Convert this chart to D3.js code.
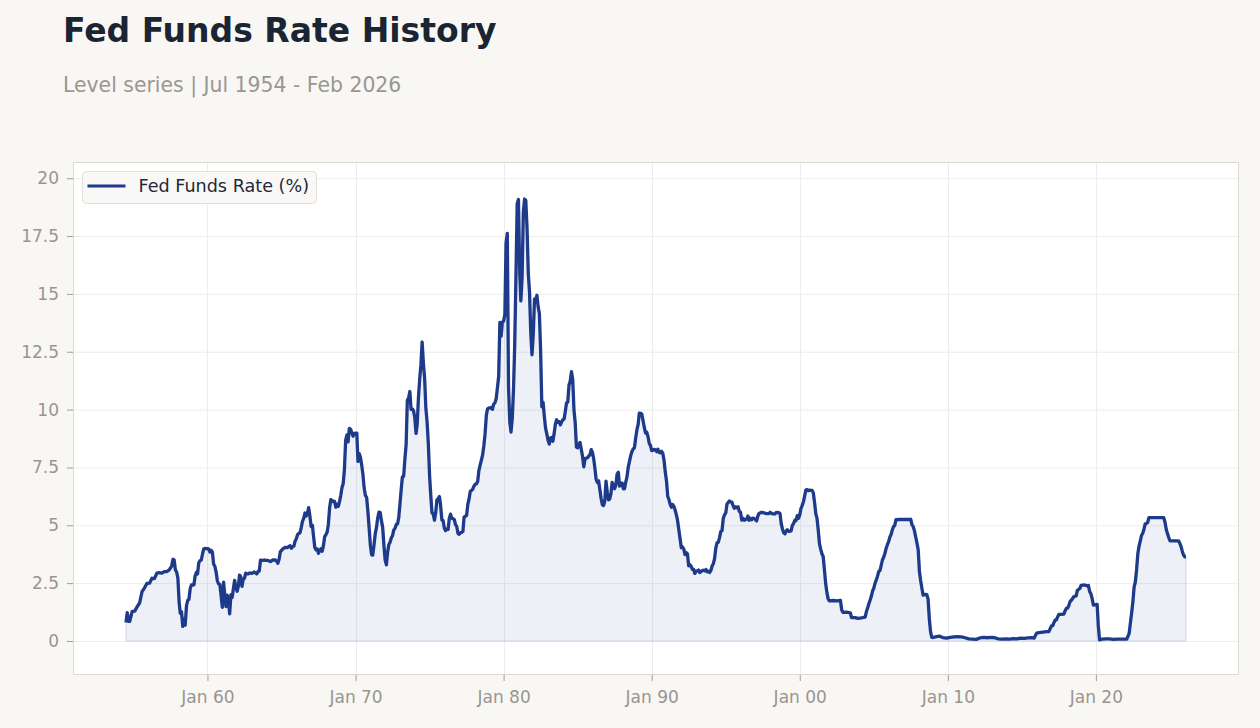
<!DOCTYPE html>
<html>
<head>
<meta charset="utf-8">
<script src="https://cdn.jsdelivr.net/npm/d3@7/dist/d3.min.js"></script>
<style>
  body { margin: 0; background: #f8f7f4; font-family: "DejaVu Sans", sans-serif; }
  .axis text { font-family: "DejaVu Sans", sans-serif; font-size: 17px; fill: #999591; }
  .axis line { stroke: #a09c97; }
  .axis path { display: none; }
</style>
</head>
<body>
<div id="chart"></div>
<script>
// monthly effective rate (month, percent)
var rates1950s = [
  ["1954-07", 0.80], ["1954-08", 1.22], ["1954-09", 0.85], ["1954-10", 0.85], ["1954-12", 1.28],
  ["1955-02", 1.29], ["1955-04", 1.48], ["1955-06", 1.64], ["1955-08", 2.13], ["1955-10", 2.30], ["1955-12", 2.49],
  ["1956-02", 2.50], ["1956-04", 2.71], ["1956-06", 2.70], ["1956-08", 2.93], ["1956-10", 2.95], ["1956-12", 2.93],
  ["1957-02", 3.00], ["1957-04", 3.00], ["1957-06", 3.07], ["1957-08", 3.24], ["1957-09", 3.53], ["1957-10", 3.50],
  ["1957-11", 3.07], ["1957-12", 2.98], ["1958-01", 2.72], ["1958-02", 1.67], ["1958-03", 1.20], ["1958-04", 1.26],
  ["1958-05", 0.63], ["1958-06", 0.93], ["1958-07", 0.68], ["1958-08", 1.53], ["1958-09", 1.76], ["1958-10", 1.80],
  ["1958-11", 2.27], ["1958-12", 2.42], ["1959-02", 2.43], ["1959-03", 2.80], ["1959-04", 2.96], ["1959-05", 2.90],
  ["1959-06", 3.39], ["1959-07", 3.47], ["1959-08", 3.50], ["1959-09", 3.76], ["1959-10", 3.98], ["1959-11", 4.00],
  ["1959-12", 3.99]
];
var rates1960s = [
  ["1960-01", 3.99], ["1960-02", 3.97], ["1960-03", 3.84], ["1960-04", 3.92], ["1960-05", 3.85], ["1960-06", 3.32],
  ["1960-07", 3.23], ["1960-08", 2.98], ["1960-09", 2.60], ["1960-10", 2.47], ["1960-11", 2.44], ["1960-12", 1.98],
  ["1961-01", 1.45], ["1961-02", 2.54], ["1961-03", 2.02], ["1961-04", 1.49], ["1961-05", 1.98], ["1961-06", 1.73],
  ["1961-07", 1.17], ["1961-08", 2.00], ["1961-09", 1.88], ["1961-10", 2.26], ["1961-11", 2.62], ["1961-12", 2.33],
  ["1962-01", 2.15], ["1962-02", 2.37], ["1962-03", 2.85], ["1962-04", 2.78], ["1962-05", 2.36], ["1962-06", 2.68],
  ["1962-07", 2.71], ["1962-08", 2.93], ["1962-09", 2.90], ["1962-10", 2.90], ["1962-11", 2.94], ["1962-12", 2.93],
  ["1963-01", 2.92], ["1963-03", 2.98], ["1963-05", 2.90], ["1963-06", 3.00], ["1963-07", 3.02], ["1963-08", 3.49],
  ["1963-10", 3.48], ["1963-11", 3.50], ["1963-12", 3.48], ["1964-02", 3.48], ["1964-04", 3.43], ["1964-06", 3.50],
  ["1964-08", 3.50], ["1964-09", 3.45], ["1964-10", 3.36], ["1964-11", 3.52], ["1964-12", 3.85], ["1965-02", 3.98],
  ["1965-04", 4.05], ["1965-06", 4.04], ["1965-08", 4.12], ["1965-09", 4.01], ["1965-10", 4.08], ["1965-11", 4.10],
  ["1965-12", 4.32], ["1966-01", 4.42], ["1966-02", 4.60], ["1966-03", 4.65], ["1966-04", 4.67], ["1966-05", 4.90],
  ["1966-06", 5.17], ["1966-07", 5.30], ["1966-08", 5.53], ["1966-09", 5.40], ["1966-10", 5.53], ["1966-11", 5.76],
  ["1966-12", 5.40], ["1967-01", 4.94], ["1967-02", 5.00], ["1967-03", 4.53], ["1967-04", 4.05], ["1967-05", 3.94],
  ["1967-06", 3.98], ["1967-07", 3.79], ["1967-08", 3.90], ["1967-09", 3.99], ["1967-10", 3.88], ["1967-11", 4.13],
  ["1967-12", 4.51], ["1968-01", 4.60], ["1968-02", 4.71], ["1968-03", 5.05], ["1968-04", 5.76], ["1968-05", 6.11],
  ["1968-06", 6.07], ["1968-07", 6.02], ["1968-08", 6.03], ["1968-09", 5.78], ["1968-10", 5.91], ["1968-11", 5.82],
  ["1968-12", 6.02], ["1969-01", 6.30], ["1969-02", 6.64], ["1969-03", 6.79], ["1969-04", 7.41], ["1969-05", 8.67],
  ["1969-06", 8.90], ["1969-07", 8.61], ["1969-08", 9.19], ["1969-09", 9.15], ["1969-10", 9.00], ["1969-11", 8.85],
  ["1969-12", 8.97]
];
var rates1970s = [
  ["1970-01", 8.98], ["1970-02", 8.98], ["1970-03", 7.76], ["1970-04", 8.10], ["1970-05", 7.94], ["1970-06", 7.60],
  ["1970-07", 7.21], ["1970-08", 6.61], ["1970-09", 6.29], ["1970-10", 6.20], ["1970-11", 5.60], ["1970-12", 4.90],
  ["1971-01", 4.14], ["1971-02", 3.72], ["1971-03", 3.71], ["1971-04", 4.15], ["1971-05", 4.63], ["1971-06", 4.91],
  ["1971-07", 5.31], ["1971-08", 5.57], ["1971-09", 5.55], ["1971-10", 5.20], ["1971-11", 4.91], ["1971-12", 4.14],
  ["1972-01", 3.50], ["1972-02", 3.29], ["1972-03", 3.83], ["1972-04", 4.17], ["1972-05", 4.27], ["1972-06", 4.46],
  ["1972-07", 4.55], ["1972-08", 4.80], ["1972-09", 4.87], ["1972-10", 5.04], ["1972-11", 5.06], ["1972-12", 5.33],
  ["1973-01", 5.94], ["1973-02", 6.58], ["1973-03", 7.09], ["1973-04", 7.12], ["1973-05", 7.84], ["1973-06", 8.49],
  ["1973-07", 10.40], ["1973-08", 10.50], ["1973-09", 10.78], ["1973-10", 10.01], ["1973-11", 10.03], ["1973-12", 9.95],
  ["1974-01", 9.65], ["1974-02", 8.97], ["1974-03", 9.35], ["1974-04", 10.51], ["1974-05", 11.31], ["1974-06", 11.93],
  ["1974-07", 12.92], ["1974-08", 12.01], ["1974-09", 11.34], ["1974-10", 10.06], ["1974-11", 9.45], ["1974-12", 8.53],
  ["1975-01", 7.13], ["1975-02", 6.24], ["1975-03", 5.54], ["1975-04", 5.49], ["1975-05", 5.22], ["1975-06", 5.55],
  ["1975-07", 6.10], ["1975-08", 6.14], ["1975-09", 6.24], ["1975-10", 5.82], ["1975-11", 5.22], ["1975-12", 5.20],
  ["1976-01", 4.87], ["1976-02", 4.77], ["1976-03", 4.84], ["1976-04", 4.82], ["1976-05", 5.29], ["1976-06", 5.48],
  ["1976-07", 5.31], ["1976-08", 5.29], ["1976-09", 5.25], ["1976-10", 5.03], ["1976-11", 4.95], ["1976-12", 4.65],
  ["1977-01", 4.61], ["1977-02", 4.68], ["1977-03", 4.69], ["1977-04", 4.73], ["1977-05", 5.35], ["1977-06", 5.39],
  ["1977-07", 5.42], ["1977-08", 5.90], ["1977-09", 6.14], ["1977-10", 6.47], ["1977-11", 6.51], ["1977-12", 6.56],
  ["1978-01", 6.70], ["1978-02", 6.78], ["1978-03", 6.79], ["1978-04", 6.89], ["1978-05", 7.36], ["1978-06", 7.60],
  ["1978-07", 7.81], ["1978-08", 8.04], ["1978-09", 8.45], ["1978-10", 8.96], ["1978-11", 9.76], ["1978-12", 10.03],
  ["1979-01", 10.07], ["1979-02", 10.06], ["1979-03", 10.09], ["1979-04", 10.01], ["1979-05", 10.24], ["1979-06", 10.29],
  ["1979-07", 10.47], ["1979-08", 10.94], ["1979-09", 11.43], ["1979-10", 13.77], ["1979-11", 13.18], ["1979-12", 13.78]
];
var rates1980s = [
  ["1980-01", 13.82], ["1980-02", 14.13], ["1980-03", 17.19], ["1980-04", 17.61], ["1980-05", 10.98], ["1980-06", 9.47],
  ["1980-07", 9.03], ["1980-08", 9.61], ["1980-09", 10.87], ["1980-10", 12.81], ["1980-11", 15.85], ["1980-12", 18.90],
  ["1981-01", 19.08], ["1981-02", 15.93], ["1981-03", 14.70], ["1981-04", 15.72], ["1981-05", 18.52], ["1981-06", 19.10],
  ["1981-07", 19.04], ["1981-08", 17.82], ["1981-09", 15.87], ["1981-10", 15.08], ["1981-11", 13.31], ["1981-12", 12.37],
  ["1982-01", 13.22], ["1982-02", 14.78], ["1982-03", 14.68], ["1982-04", 14.94], ["1982-05", 14.45], ["1982-06", 14.15],
  ["1982-07", 12.59], ["1982-08", 10.12], ["1982-09", 10.31], ["1982-10", 9.71], ["1982-11", 9.20], ["1982-12", 8.95],
  ["1983-01", 8.68], ["1983-02", 8.51], ["1983-03", 8.77], ["1983-04", 8.80], ["1983-05", 8.63], ["1983-06", 8.98],
  ["1983-07", 9.37], ["1983-08", 9.56], ["1983-09", 9.45], ["1983-10", 9.48], ["1983-11", 9.34], ["1983-12", 9.47],
  ["1984-01", 9.56], ["1984-02", 9.59], ["1984-03", 9.91], ["1984-04", 10.29], ["1984-05", 10.32], ["1984-06", 11.06],
  ["1984-07", 11.23], ["1984-08", 11.64], ["1984-09", 11.30], ["1984-10", 9.99], ["1984-11", 9.43], ["1984-12", 8.38],
  ["1985-01", 8.35], ["1985-02", 8.50], ["1985-03", 8.58], ["1985-04", 8.27], ["1985-05", 7.97], ["1985-06", 7.53],
  ["1985-07", 7.88], ["1985-08", 7.90], ["1985-09", 7.92], ["1985-10", 7.99], ["1985-11", 8.05], ["1985-12", 8.27],
  ["1986-01", 8.14], ["1986-02", 7.86], ["1986-03", 7.48], ["1986-04", 6.99], ["1986-05", 6.85], ["1986-06", 6.92],
  ["1986-07", 6.56], ["1986-08", 6.17], ["1986-09", 5.89], ["1986-10", 5.85], ["1986-11", 6.04], ["1986-12", 6.91],
  ["1987-01", 6.43], ["1987-02", 6.10], ["1987-03", 6.13], ["1987-04", 6.37], ["1987-05", 6.85], ["1987-06", 6.73],
  ["1987-07", 6.58], ["1987-08", 6.73], ["1987-09", 7.22], ["1987-10", 7.29], ["1987-11", 6.69], ["1987-12", 6.77],
  ["1988-01", 6.83], ["1988-02", 6.58], ["1988-03", 6.58], ["1988-04", 6.87], ["1988-05", 7.09], ["1988-06", 7.51],
  ["1988-07", 7.75], ["1988-08", 8.01], ["1988-09", 8.19], ["1988-10", 8.30], ["1988-11", 8.35], ["1988-12", 8.76],
  ["1989-01", 9.12], ["1989-02", 9.36], ["1989-03", 9.85], ["1989-04", 9.84], ["1989-05", 9.81], ["1989-06", 9.53],
  ["1989-07", 9.24], ["1989-08", 8.99], ["1989-09", 9.02], ["1989-10", 8.84], ["1989-11", 8.55], ["1989-12", 8.45]
];
var rates1990s = [
  ["1990-01", 8.23], ["1990-02", 8.24], ["1990-03", 8.28], ["1990-04", 8.26], ["1990-05", 8.18], ["1990-06", 8.29],
  ["1990-07", 8.15], ["1990-08", 8.13], ["1990-09", 8.20], ["1990-10", 8.11], ["1990-11", 7.81], ["1990-12", 7.31],
  ["1991-01", 6.91], ["1991-02", 6.25], ["1991-03", 6.12], ["1991-04", 5.91], ["1991-05", 5.78], ["1991-06", 5.90],
  ["1991-07", 5.82], ["1991-08", 5.66], ["1991-09", 5.45], ["1991-10", 5.21], ["1991-11", 4.81], ["1991-12", 4.43],
  ["1992-01", 4.03], ["1992-02", 4.06], ["1992-03", 3.98], ["1992-04", 3.73], ["1992-05", 3.82], ["1992-06", 3.76],
  ["1992-07", 3.25], ["1992-08", 3.30], ["1992-09", 3.22], ["1992-10", 3.10], ["1992-11", 3.09], ["1992-12", 2.92],
  ["1993-01", 3.02], ["1993-02", 3.03], ["1993-03", 3.07], ["1993-04", 2.96], ["1993-05", 3.00], ["1993-06", 3.04],
  ["1993-07", 3.06], ["1993-08", 3.03], ["1993-09", 3.09], ["1993-10", 2.99], ["1993-11", 3.02], ["1993-12", 2.96],
  ["1994-01", 3.05], ["1994-02", 3.25], ["1994-03", 3.34], ["1994-04", 3.56], ["1994-05", 4.01], ["1994-06", 4.25],
  ["1994-07", 4.26], ["1994-08", 4.47], ["1994-09", 4.73], ["1994-10", 4.76], ["1994-11", 5.29], ["1994-12", 5.45],
  ["1995-01", 5.53], ["1995-02", 5.92], ["1995-03", 5.98], ["1995-04", 6.05], ["1995-05", 6.01], ["1995-06", 6.00],
  ["1995-07", 5.85], ["1995-08", 5.74], ["1995-09", 5.80], ["1995-10", 5.76], ["1995-11", 5.80], ["1995-12", 5.60],
  ["1996-01", 5.56], ["1996-02", 5.22], ["1996-03", 5.31], ["1996-04", 5.22], ["1996-05", 5.24], ["1996-06", 5.27],
  ["1996-07", 5.40], ["1996-08", 5.22], ["1996-09", 5.30], ["1996-10", 5.24], ["1996-11", 5.31], ["1996-12", 5.29],
  ["1997-01", 5.25], ["1997-02", 5.19], ["1997-03", 5.39], ["1997-04", 5.51], ["1997-06", 5.56], ["1997-08", 5.54],
  ["1997-10", 5.50], ["1997-12", 5.50], ["1998-01", 5.56], ["1998-03", 5.49], ["1998-05", 5.49], ["1998-06", 5.56],
  ["1998-08", 5.55], ["1998-09", 5.51], ["1998-10", 5.07], ["1998-11", 4.83], ["1998-12", 4.68], ["1999-01", 4.63],
  ["1999-02", 4.76], ["1999-03", 4.81], ["1999-04", 4.74], ["1999-05", 4.74], ["1999-06", 4.76], ["1999-07", 4.99],
  ["1999-08", 5.07], ["1999-09", 5.22], ["1999-10", 5.20], ["1999-11", 5.42], ["1999-12", 5.30]
];
var rates2000s = [
  ["2000-01", 5.45], ["2000-02", 5.73], ["2000-03", 5.85], ["2000-04", 6.02], ["2000-05", 6.27], ["2000-06", 6.53],
  ["2000-07", 6.54], ["2000-08", 6.50], ["2000-09", 6.52], ["2000-10", 6.51], ["2000-11", 6.51], ["2000-12", 6.40],
  ["2001-01", 5.98], ["2001-02", 5.49], ["2001-03", 5.31], ["2001-04", 4.80], ["2001-05", 4.21], ["2001-06", 3.97],
  ["2001-07", 3.77], ["2001-08", 3.65], ["2001-09", 3.07], ["2001-10", 2.49], ["2001-11", 2.09], ["2001-12", 1.82],
  ["2002-01", 1.73], ["2002-04", 1.75], ["2002-07", 1.73], ["2002-10", 1.75], ["2002-11", 1.34], ["2002-12", 1.24],
  ["2003-03", 1.25], ["2003-06", 1.22], ["2003-07", 1.01], ["2003-10", 1.01], ["2003-12", 0.98], ["2004-03", 1.00],
  ["2004-06", 1.03], ["2004-07", 1.26], ["2004-08", 1.43], ["2004-09", 1.61], ["2004-10", 1.76], ["2004-11", 1.93],
  ["2004-12", 2.16], ["2005-01", 2.28], ["2005-02", 2.50], ["2005-03", 2.63], ["2005-04", 2.79], ["2005-05", 3.00],
  ["2005-06", 3.04], ["2005-07", 3.26], ["2005-08", 3.50], ["2005-09", 3.62], ["2005-10", 3.78], ["2005-11", 4.00],
  ["2005-12", 4.16], ["2006-01", 4.29], ["2006-02", 4.49], ["2006-03", 4.59], ["2006-04", 4.79], ["2006-05", 4.94],
  ["2006-06", 4.99], ["2006-07", 5.24], ["2006-10", 5.25], ["2007-01", 5.25], ["2007-04", 5.25], ["2007-07", 5.26],
  ["2007-08", 5.02], ["2007-09", 4.94], ["2007-10", 4.76], ["2007-11", 4.49], ["2007-12", 4.24], ["2008-01", 3.94],
  ["2008-02", 2.98], ["2008-03", 2.61], ["2008-04", 2.28], ["2008-05", 1.98], ["2008-06", 2.00], ["2008-07", 2.01],
  ["2008-08", 2.00], ["2008-09", 1.81], ["2008-10", 0.97], ["2008-11", 0.39], ["2008-12", 0.16], ["2009-01", 0.15],
  ["2009-03", 0.18], ["2009-06", 0.21], ["2009-09", 0.15], ["2009-12", 0.12]
];
var rates2010s = [
  ["2010-03", 0.16], ["2010-06", 0.18], ["2010-09", 0.19], ["2010-12", 0.18], ["2011-03", 0.14], ["2011-06", 0.09],
  ["2011-09", 0.08], ["2011-12", 0.07], ["2012-03", 0.13], ["2012-06", 0.16], ["2012-09", 0.14], ["2012-12", 0.16],
  ["2013-03", 0.14], ["2013-06", 0.09], ["2013-09", 0.08], ["2013-12", 0.09], ["2014-03", 0.08], ["2014-06", 0.10],
  ["2014-09", 0.09], ["2014-12", 0.12], ["2015-03", 0.11], ["2015-06", 0.13], ["2015-09", 0.14], ["2015-11", 0.12],
  ["2015-12", 0.24], ["2016-01", 0.34], ["2016-03", 0.36], ["2016-06", 0.38], ["2016-09", 0.40], ["2016-11", 0.41],
  ["2016-12", 0.54], ["2017-01", 0.65], ["2017-02", 0.66], ["2017-03", 0.79], ["2017-04", 0.90], ["2017-05", 0.91],
  ["2017-06", 1.04], ["2017-07", 1.15], ["2017-09", 1.15], ["2017-11", 1.16], ["2017-12", 1.30], ["2018-01", 1.41],
  ["2018-02", 1.42], ["2018-03", 1.51], ["2018-04", 1.69], ["2018-06", 1.82], ["2018-07", 1.91], ["2018-09", 1.95],
  ["2018-10", 2.19], ["2018-12", 2.27], ["2019-01", 2.40], ["2019-04", 2.42], ["2019-06", 2.38], ["2019-07", 2.40],
  ["2019-08", 2.13], ["2019-09", 2.04], ["2019-10", 1.83], ["2019-11", 1.55]
];
var rates2020s = [
  ["2020-02", 1.58], ["2020-03", 0.65], ["2020-04", 0.05], ["2020-06", 0.08], ["2020-09", 0.09], ["2020-12", 0.09],
  ["2021-03", 0.07], ["2021-06", 0.08], ["2021-09", 0.08], ["2021-12", 0.08], ["2022-02", 0.08], ["2022-03", 0.20],
  ["2022-04", 0.33], ["2022-05", 0.77], ["2022-06", 1.21], ["2022-07", 1.68], ["2022-08", 2.33], ["2022-09", 2.56],
  ["2022-10", 3.08], ["2022-11", 3.78], ["2022-12", 4.10], ["2023-01", 4.33], ["2023-02", 4.57], ["2023-03", 4.65],
  ["2023-04", 4.83], ["2023-05", 5.06], ["2023-06", 5.08], ["2023-07", 5.12], ["2023-08", 5.33], ["2023-12", 5.33],
  ["2024-04", 5.33], ["2024-08", 5.33], ["2024-09", 5.13], ["2024-10", 4.83], ["2024-11", 4.64], ["2024-12", 4.48],
  ["2025-01", 4.33], ["2025-05", 4.33], ["2025-08", 4.33], ["2025-09", 4.22], ["2025-10", 4.09], ["2025-11", 3.88],
  ["2025-12", 3.72], ["2026-01", 3.64], ["2026-02", 3.64]
];

var yTicks = [0, 2.5, 5, 7.5, 10, 12.5, 15, 17.5, 20];
var seriesName = "Fed Funds Rate (%)";
var titleText = "Fed Funds Rate History";
var subtitleText = "Level series | Jul 1954 - Feb 2026";

var widthSvg = 1260,
    heightSvg = 728;

var margin = { top: 162, right: 21, bottom: 53, left: 73 },
    width = widthSvg - margin.left - margin.right,
    height = heightSvg - margin.top - margin.bottom;

var parseMonth = d3.timeParse("%Y-%m");

var data = [].concat(rates1950s, rates1960s, rates1970s, rates1980s, rates1990s, rates2000s, rates2010s, rates2020s)
  .map(function (d) { return { date: parseMonth(d[0]), value: d[1] }; });

var svg = d3.select("#chart").append("svg")
  .attr("width", widthSvg)
  .attr("height", heightSvg);

svg.append("text")
  .attr("x", 63).attr("y", 42)
  .attr("font-size", 33).attr("font-weight", "bold")
  .attr("fill", "#1b2433")
  .text(titleText);

svg.append("text")
  .attr("x", 63).attr("y", 92)
  .attr("font-size", 20.4)
  .attr("fill", "#9a9691")
  .text(subtitleText);

var g = svg.append("g")
  .attr("transform", "translate(" + margin.left + "," + margin.top + ")");

// x domain: data extent padded by 5% on each side
var ext = d3.extent(data, function (d) { return d.date; });
var pad = (ext[1] - ext[0]) * 0.05;
var xScale = d3.scaleTime()
  .domain([new Date(+ext[0] - pad), new Date(+ext[1] + pad)])
  .range([0, width]);

var yScale = d3.scaleLinear()
  .domain([-1.47, 20.7])
  .range([height, 0]);

var xTicks = xScale.ticks(d3.timeYear.every(10));

g.append("rect")
  .attr("width", width).attr("height", height)
  .attr("fill", "#ffffff");

// grid
g.append("g").selectAll("line")
  .data(yTicks).enter().append("line")
  .attr("x1", 0).attr("x2", width)
  .attr("y1", function (d) { return yScale(d) + 0.5; })
  .attr("y2", function (d) { return yScale(d) + 0.5; })
  .attr("stroke", "#ededed");

g.append("g").selectAll("line")
  .data(xTicks).enter().append("line")
  .attr("y1", 0).attr("y2", height)
  .attr("x1", function (d) { return Math.round(xScale(d)) + 0.5; })
  .attr("x2", function (d) { return Math.round(xScale(d)) + 0.5; })
  .attr("stroke", "#ededed");

var area = d3.area()
  .x(function (d) { return xScale(d.date); })
  .y0(yScale(0))
  .y1(function (d) { return yScale(d.value); });

var line = d3.line()
  .x(function (d) { return xScale(d.date); })
  .y(function (d) { return yScale(d.value); });

g.append("path")
  .datum(data)
  .attr("d", area)
  .attr("fill", "rgba(30,58,138,0.08)")
  .attr("stroke", "rgba(30,58,138,0.16)")
  .attr("stroke-width", 1.2);

g.append("path")
  .datum(data)
  .attr("d", line)
  .attr("fill", "none")
  .attr("stroke", "#1e3a8a")
  .attr("stroke-width", 3.3)
  .attr("stroke-linejoin", "round");

// frame
g.append("rect")
  .attr("x", 0.5).attr("y", 0.5)
  .attr("width", width - 1).attr("height", height - 1)
  .attr("fill", "none")
  .attr("stroke", "#dcd8d2");

// axes
g.append("g")
  .attr("class", "axis")
  .attr("transform", "translate(0," + height + ")")
  .call(d3.axisBottom(xScale)
    .tickValues(xTicks)
    .tickSize(6)
    .tickPadding(10)
    .tickFormat(d3.timeFormat("%b %y")));

g.append("g")
  .attr("class", "axis")
  .call(d3.axisLeft(yScale)
    .tickValues(yTicks)
    .tickSize(6)
    .tickPadding(8)
    .tickFormat(function (d) { return String(d); }));

// legend
var legend = g.append("g")
  .attr("transform", "translate(9.5,9.5)");

legend.append("rect")
  .attr("width", 234).attr("height", 32)
  .attr("rx", 4)
  .attr("fill", "#f9f8f6")
  .attr("stroke", "#e3dfd9");

legend.append("line")
  .attr("x1", 5).attr("x2", 43)
  .attr("y1", 14.5).attr("y2", 14.5)
  .attr("stroke", "#1e3a8a")
  .attr("stroke-width", 3);

legend.append("text")
  .attr("x", 56).attr("y", 14.5)
  .attr("dy", "0.35em")
  .attr("font-size", 17.6)
  .attr("fill", "#1f2937")
  .text(seriesName);
</script>
</body>
</html>
